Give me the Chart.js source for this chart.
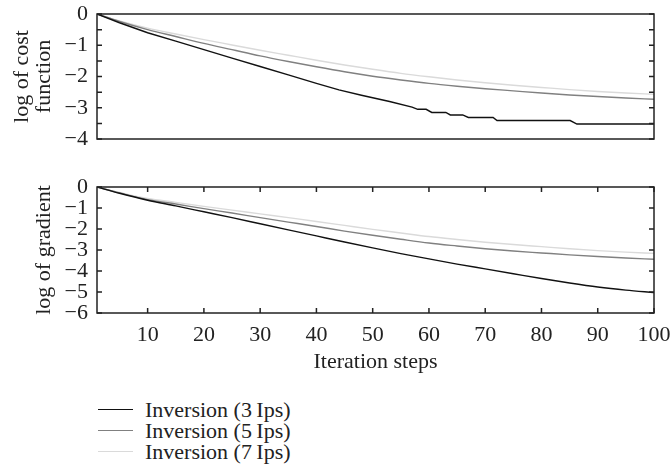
<!DOCTYPE html>
<html>
<head>
<meta charset="utf-8">
<script src="https://cdn.jsdelivr.net/npm/chart.js@4.4.0/dist/chart.umd.min.js"></script>
<style>
  body { margin: 0; background: #fff; width: 670px; height: 466px; position: relative; overflow: hidden; font-family: "Liberation Serif", serif; }
  #c1 { position: absolute; left: 0; top: 0; }
  #c2 { position: absolute; left: 0; top: 160px; }
  #legend { position: absolute; left: 98px; top: 399px; font-size: 22px; line-height: 21px; color: #222; }
  .row { display: flex; align-items: center; height: 21px; }
  .sw { width: 35px; height: 0; border-top: 1.5px solid; margin-right: 12px; }
</style>
</head>
<body>
<canvas id="c1" width="670" height="160"></canvas>
<canvas id="c2" width="670" height="220"></canvas>
<div id="legend"></div>
<script>
// iteration steps where the curves were read
const steps = [1, 5, 10, 15, 20, 25, 30, 35, 40, 45, 50, 55, 60, 65, 70, 75, 80, 85, 90, 95, 100];

// log of cost function
const cost3Steps = [1, 5, 10, 15, 20, 25, 30, 35, 40, 44, 48, 53, 57, 58, 59.5, 60.5, 63, 63.8, 66, 67, 71.4, 72.1, 85.1, 86.3, 100];
const cost3 = [0, -0.28, -0.6, -0.87, -1.14, -1.41, -1.68, -1.95, -2.22, -2.43, -2.6, -2.8, -2.98, -3.05, -3.05, -3.15, -3.15, -3.23, -3.23, -3.31, -3.31, -3.41, -3.41, -3.52, -3.52];
const cost5 = [0, -0.24, -0.5, -0.72, -0.94, -1.14, -1.34, -1.52, -1.69, -1.85, -1.99, -2.11, -2.22, -2.31, -2.39, -2.46, -2.53, -2.59, -2.64, -2.69, -2.73];
const cost7 = [0, -0.22, -0.45, -0.64, -0.82, -0.99, -1.16, -1.32, -1.48, -1.63, -1.77, -1.9, -2.01, -2.11, -2.2, -2.28, -2.35, -2.42, -2.48, -2.53, -2.57];

// log of gradient
const grad3 = [0, -0.3, -0.63, -0.9, -1.18, -1.46, -1.75, -2.04, -2.33, -2.62, -2.9, -3.17, -3.42, -3.67, -3.9, -4.13, -4.36, -4.57, -4.76, -4.91, -5.03];
const grad5 = [0, -0.28, -0.6, -0.81, -1.03, -1.24, -1.46, -1.67, -1.88, -2.1, -2.3, -2.49, -2.67, -2.81, -2.94, -3.05, -3.14, -3.23, -3.31, -3.38, -3.44];
const grad7 = [0, -0.26, -0.55, -0.73, -0.92, -1.1, -1.28, -1.46, -1.64, -1.83, -2.02, -2.19, -2.36, -2.5, -2.63, -2.74, -2.84, -2.94, -3.03, -3.1, -3.16];

const xTicks = [10, 20, 30, 40, 50, 60, 70, 80, 90, 100];
const seriesNames = ["Inversion (3\u2009Ips)", "Inversion (5\u2009Ips)", "Inversion (7\u2009Ips)"];
const seriesColors = ["#111111", "#808080", "#dadada"];

Chart.defaults.font.family = '"Liberation Serif", serif';
Chart.defaults.color = "#222";

const minus = (v) => (v < 0 ? "\u2212" + (-v) : String(v));

// box around the plot with inward ticks on all sides
const frame = {
  id: "frame",
  afterDatasetsDraw(chart, args, opts) {
    const { ctx, chartArea: a, scales } = chart;
    ctx.save();
    ctx.strokeStyle = "#222";
    ctx.lineWidth = 1.5;
    ctx.beginPath();
    scales.y.ticks.forEach((t) => {
      const y = scales.y.getPixelForValue(t.value);
      ctx.moveTo(a.left, y); ctx.lineTo(a.left + 5, y);
      ctx.moveTo(a.right, y); ctx.lineTo(a.right - 5, y);
    });
    if (opts.xTicks) {
      scales.x.ticks.forEach((t) => {
        const x = scales.x.getPixelForValue(t.value);
        ctx.moveTo(x, a.top); ctx.lineTo(x, a.top + 5);
        ctx.moveTo(x, a.bottom); ctx.lineTo(x, a.bottom - 5);
      });
    }
    ctx.stroke();
    ctx.strokeRect(a.left, a.top, a.right - a.left, a.bottom - a.top);
    ctx.restore();
  },
};

const line = (i, xs, ys, stepped) => ({
  label: seriesNames[i],
  data: xs.map((x, k) => ({ x: x, y: ys[k] })),
  borderColor: seriesColors[i],
  borderWidth: 1.4,
  pointRadius: 0,
  fill: false,
  tension: stepped ? 0 : 0.4,
  cubicInterpolationMode: stepped ? "default" : "monotone",
});

const yAxis = (min, step, title, titleTop, lineHeight) => ({
  type: "linear",
  min: min,
  max: 0,
  grid: { display: false, drawTicks: false },
  border: { display: false },
  ticks: {
    stepSize: step,
    autoSkip: false,
    padding: 9,
    font: { size: 22 },
    callback: (v) => (Number.isInteger(v) ? minus(v) : ""),
  },
  title: { display: true, text: title, font: { size: 22, lineHeight: lineHeight }, padding: { top: titleTop, bottom: 0 } },
  afterFit: (s) => { s.width = 97; s.paddingTop = 0; s.paddingBottom = 0; },
});

const common = {
  responsive: false,
  animation: false,
  plugins: { legend: { display: false }, tooltip: { enabled: false } },
};

new Chart(document.getElementById("c1"), {
  type: "line",
  data: {
    datasets: [line(0, cost3Steps, cost3, true), line(1, steps, cost5), line(2, steps, cost7)],
  },
  options: {
    ...common,
    layout: { padding: { left: 0, right: 16, top: 14, bottom: 21 } },
    scales: {
      x: { type: "linear", min: 1, max: 100, display: false },
      y: yAxis(-4, 0.5, ["log of cost", "function"], 11, 1.0),
    },
    plugins: { ...common.plugins, frame: { xTicks: false } },
  },
  plugins: [frame],
});

new Chart(document.getElementById("c2"), {
  type: "line",
  data: {
    datasets: [line(0, steps, grad3), line(1, steps, grad5), line(2, steps, grad7)],
  },
  options: {
    ...common,
    layout: { padding: { left: 0, right: 16, top: 27, bottom: 0 } },
    scales: {
      x: {
        type: "linear",
        min: 1,
        max: 100,
        grid: { display: false, drawTicks: false },
        border: { display: false },
        afterBuildTicks: (s) => { s.ticks = xTicks.map((v) => ({ value: v })); },
        ticks: { autoSkip: false, maxRotation: 0, padding: 9, font: { size: 22 }, callback: (v) => String(v) },
        title: { display: true, text: "Iteration steps", font: { size: 22, lineHeight: 1.2 }, padding: { top: 0, bottom: 5 } },
        afterFit: (s) => { s.height = 67; s.paddingLeft = 0; s.paddingRight = 0; },
      },
      y: yAxis(-6, 1, "log of gradient", 31, 1.2),
    },
    plugins: { ...common.plugins, frame: { xTicks: true } },
  },
  plugins: [frame],
});

// legend below the plots
const legend = document.getElementById("legend");
seriesNames.forEach((name, i) => {
  const row = document.createElement("div");
  row.className = "row";
  const sw = document.createElement("span");
  sw.className = "sw";
  sw.style.borderColor = seriesColors[i];
  const txt = document.createElement("span");
  txt.textContent = name;
  row.appendChild(sw);
  row.appendChild(txt);
  legend.appendChild(row);
});
</script>
</body>
</html>
